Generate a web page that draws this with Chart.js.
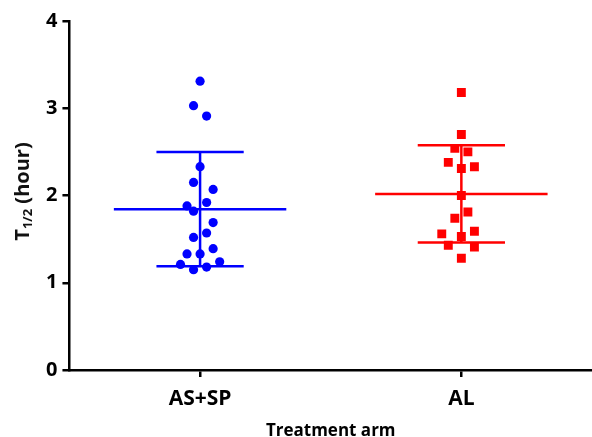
<!DOCTYPE html>
<html>
<head>
<meta charset="utf-8">
<script src="https://cdn.jsdelivr.net/npm/chart.js@4.4.1/dist/chart.umd.min.js"></script>
<style>
  html, body { margin: 0; padding: 0; background: #fff; overflow: hidden; }
  canvas { display: block; }
</style>
</head>
<body>
<canvas id="myChart" width="592" height="437"></canvas>
<script>
// T1/2 values per treatment arm
const categories = ['AS+SP', 'AL'];
const asspValues = [3.31, 3.03, 2.91, 2.33, 2.15, 2.07, 1.92, 1.88, 1.82, 1.69,
                    1.57, 1.52, 1.39, 1.33, 1.33, 1.24, 1.21, 1.18, 1.15];
const alValues = [3.18, 2.70, 2.54, 2.50, 2.38, 2.33, 2.31, 2.00, 1.81, 1.74,
                  1.59, 1.56, 1.53, 1.43, 1.41, 1.28];
const yTicks = [0, 1, 2, 3, 4];

// scatter column slot of each dot (spread sideways so dots don't overlap)
const asspSlots = [0, -1, 1, 0, -1, 2, 1, -2, -1, 2, 1, -1, 2, -2, 0, 3, -3, 1, -1];
const alSlots = [0, 0, -1, 1, -2, 2, 0, 0, 1, -1, 2, -3, 0, -2, 2, 0];
const slotStep = 0.025;

function mean(a) { return a.reduce((s, v) => s + v, 0) / a.length; }
function sd(a) {
  const m = mean(a);
  return Math.sqrt(a.reduce((s, v) => s + (v - m) * (v - m), 0) / (a.length - 1));
}

function dots(values, slots, pos) {
  return values.map((v, i) => ({ x: pos + slots[i] * slotStep, y: v }));
}

// mean line + SD whiskers as one broken line
function bars(values, pos) {
  const m = mean(values), s = sd(values);
  const w = 0.33, c = 0.167;
  return [
    { x: pos - w, y: m }, { x: pos + w, y: m }, { x: pos, y: null },
    { x: pos - c, y: m + s }, { x: pos + c, y: m + s }, { x: pos, y: null },
    { x: pos - c, y: m - s }, { x: pos + c, y: m - s }, { x: pos, y: null },
    { x: pos, y: m - s }, { x: pos, y: m + s }
  ];
}

const blue = '#0000ff';
const red = '#ff0000';
const font = 'Open Sans';

// y title with a real subscript: T 1/2 (hour)
const yTitle = {
  id: 'yTitle',
  afterDraw(chart) {
    const { ctx, chartArea } = chart;
    const cy = (chartArea.top + chartArea.bottom) / 2 - 4;
    const big = 'bold 20px "' + font + '"';
    const small = 'bold 13px "' + font + '"';
    ctx.save();
    ctx.fillStyle = '#111';
    ctx.textBaseline = 'alphabetic';
    ctx.textAlign = 'left';
    ctx.font = big;
    const wT = ctx.measureText('T').width;
    const wRest = ctx.measureText(' (hour)').width;
    ctx.font = small;
    const wSub = ctx.measureText('1/2').width;
    const total = wT + wSub + wRest;
    ctx.translate(29, cy);
    ctx.rotate(-Math.PI / 2);
    let x = -total / 2;
    ctx.font = big;
    ctx.fillText('T', x, 0);
    x += wT;
    ctx.font = small;
    ctx.fillText('1/2', x, 3);
    x += wSub;
    ctx.font = big;
    ctx.fillText(' (hour)', x, 0);
    ctx.restore();
  }
};

const ctx = document.getElementById('myChart');

new Chart(ctx, {
  type: 'scatter',
  data: {
    datasets: [
      {
        label: 'AS+SP mean',
        data: bars(asspValues, 1),
        showLine: true,
        spanGaps: false,
        borderColor: blue,
        borderWidth: 2.5,
        pointRadius: 0
      },
      {
        label: 'AL mean',
        data: bars(alValues, 2),
        showLine: true,
        spanGaps: false,
        borderColor: red,
        borderWidth: 2.5,
        pointRadius: 0
      },
      {
        label: 'AS+SP',
        data: dots(asspValues, asspSlots, 1),
        pointStyle: 'circle',
        pointRadius: 4.6,
        backgroundColor: blue,
        borderColor: blue,
        borderWidth: 0
      },
      {
        label: 'AL',
        data: dots(alValues, alSlots, 2),
        pointStyle: 'rect',
        pointRadius: 6.3,
        backgroundColor: red,
        borderColor: red,
        borderWidth: 0
      }
    ]
  },
  plugins: [yTitle],
  options: {
    responsive: false,
    animation: false,
    layout: { autoPadding: false, padding: { top: 21, right: 0, left: 41, bottom: 0 } },
    plugins: {
      legend: { display: false },
      tooltip: { enabled: false }
    },
    scales: {
      x: {
        type: 'linear',
        min: 0.5,
        max: 2.5,
        afterBuildTicks: (axis) => {
          axis.ticks = categories.map((c, i) => ({ value: i + 1 }));
        },
        ticks: {
          callback: (v) => categories[v - 1],
          color: '#000',
          padding: 11.5,
          font: { family: font, size: 21, weight: 'bold', lineHeight: 1 }
        },
        grid: {
          drawOnChartArea: false,
          drawTicks: true,
          tickLength: 7,
          color: '#000',
          lineWidth: 2.5
        },
        border: { display: true, color: '#000', width: 2.5 },
        title: {
          display: true,
          text: 'Treatment arm',
          color: '#000',
          padding: { top: 2, bottom: -3 },
          font: { family: font, size: 17, weight: 'bold', lineHeight: 1 }
        }
      },
      y: {
        min: 0,
        max: 4,
        afterBuildTicks: (axis) => {
          axis.ticks = yTicks.map(v => ({ value: v }));
        },
        ticks: {
          color: '#000',
          padding: 5,
          font: { family: font, size: 20, weight: 'bold' }
        },
        grid: {
          drawOnChartArea: false,
          drawTicks: true,
          tickLength: 7,
          color: '#000',
          lineWidth: 2.5
        },
        border: { display: true, color: '#000', width: 2.5 }
      }
    }
  }
});
</script>
</body>
</html>
